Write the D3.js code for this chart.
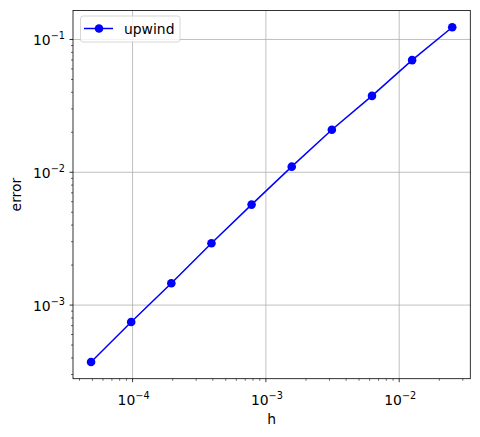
<!DOCTYPE html>
<head>
<meta charset="utf-8">
<script src="https://d3js.org/d3.v7.min.js"></script>
<style>
body { margin: 0; background: white; }
text { font-family: "DejaVu Sans", sans-serif; fill: #000; }
</style>
</head>
<body>
<div id="chart"></div>
<script>
// data
var hValues = [0.025, 0.0125, 0.00625, 0.003125, 0.0015625, 0.00078125, 0.000390625, 0.0001953125, 0.00009765625, 0.000048828125];
var errValues = [0.1236, 0.0699, 0.0376, 0.0209, 0.01102, 0.00571, 0.00292, 0.00146, 0.000745, 0.000373];
var seriesName = "upwind";
var xMajor = [-4, -3, -2];
var yMajor = [-3, -2, -1];

var W = 480, H = 437;
var margin = {top: 10.5, right: 9.7, bottom: 58.3, left: 73};

var svg = d3.select("#chart").append("svg")
  .attr("width", W).attr("height", H);

// matplotlib adds 5% in log space on each side
function padDomain(vals) {
  var lo = Math.log10(d3.min(vals)), hi = Math.log10(d3.max(vals));
  var p = (hi - lo) * 0.05;
  return [Math.pow(10, lo - p), Math.pow(10, hi + p)];
}

var x = d3.scaleLog().domain(padDomain(hValues)).range([margin.left, W - margin.right]);
var y = d3.scaleLog().domain(padDomain(errValues)).range([H - margin.bottom, margin.top]);

function minorTicks(scale) {
  var d = scale.domain(), out = [];
  for (var e = Math.floor(Math.log10(d[0])); e <= Math.ceil(Math.log10(d[1])); e++) {
    for (var k = 2; k <= 9; k++) {
      var v = k * Math.pow(10, e);
      if (v >= d[0] && v <= d[1]) out.push(v);
    }
  }
  return out;
}

var x0 = margin.left, x1 = W - margin.right, y0 = H - margin.bottom, y1 = margin.top;

// grid
svg.append("g").selectAll("line").data(xMajor).join("line")
  .attr("x1", function(e){ return x(Math.pow(10, e)); })
  .attr("x2", function(e){ return x(Math.pow(10, e)); })
  .attr("y1", y0).attr("y2", y1)
  .style("stroke", "#b0b0b0").style("stroke-width", 0.8);
svg.append("g").selectAll("line").data(yMajor).join("line")
  .attr("y1", function(e){ return y(Math.pow(10, e)); })
  .attr("y2", function(e){ return y(Math.pow(10, e)); })
  .attr("x1", x0).attr("x2", x1)
  .style("stroke", "#b0b0b0").style("stroke-width", 0.8);

// line + markers
var pts = hValues.map(function(h, i){ return [h, errValues[i]]; });
svg.append("path").datum(pts)
  .attr("d", d3.line().x(function(d){ return x(d[0]); }).y(function(d){ return y(d[1]); }))
  .style("fill", "none").style("stroke", "#0000ff").style("stroke-width", 1.5);
svg.append("g").selectAll("circle").data(pts).join("circle")
  .attr("cx", function(d){ return x(d[0]); })
  .attr("cy", function(d){ return y(d[1]); })
  .attr("r", 4.3)
  .style("fill", "#0000ff");

// spines
svg.append("rect").attr("x", x0).attr("y", y1).attr("width", x1 - x0).attr("height", y0 - y1)
  .style("fill", "none").style("stroke", "#000").style("stroke-width", 0.8);

// ticks
svg.append("g").selectAll("line").data(xMajor).join("line")
  .attr("x1", function(e){ return x(Math.pow(10, e)); })
  .attr("x2", function(e){ return x(Math.pow(10, e)); })
  .attr("y1", y0).attr("y2", y0 + 3.5)
  .style("stroke", "#000").style("stroke-width", 0.8);
svg.append("g").selectAll("line").data(minorTicks(x)).join("line")
  .attr("x1", function(v){ return x(v); }).attr("x2", function(v){ return x(v); })
  .attr("y1", y0).attr("y2", y0 + 2)
  .style("stroke", "#000").style("stroke-width", 0.6);
svg.append("g").selectAll("line").data(yMajor).join("line")
  .attr("y1", function(e){ return y(Math.pow(10, e)); })
  .attr("y2", function(e){ return y(Math.pow(10, e)); })
  .attr("x1", x0).attr("x2", x0 - 3.5)
  .style("stroke", "#000").style("stroke-width", 0.8);
svg.append("g").selectAll("line").data(minorTicks(y)).join("line")
  .attr("y1", function(v){ return y(v); }).attr("y2", function(v){ return y(v); })
  .attr("x1", x0).attr("x2", x0 - 2)
  .style("stroke", "#000").style("stroke-width", 0.6);

// tick labels 10^n
function powLabel(sel) {
  sel.append("tspan").text("10").style("font-size", "13.9px");
  sel.append("tspan").attr("dy", -6).style("font-size", "9.7px")
    .text(function(e){ return "\u2212" + Math.abs(e); });
}
svg.append("g").selectAll("text").data(xMajor).join("text")
  .attr("x", function(e){ return x(Math.pow(10, e)) + 1; })
  .attr("y", y0 + 26)
  .attr("text-anchor", "middle")
  .call(powLabel);
svg.append("g").selectAll("text").data(yMajor).join("text")
  .attr("x", x0 - 8)
  .attr("y", function(e){ return y(Math.pow(10, e)) + 6; })
  .attr("text-anchor", "end")
  .call(powLabel);

// axis labels
svg.append("text").attr("x", (x0 + x1) / 2).attr("y", y0 + 45)
  .attr("text-anchor", "middle").style("font-size", "13.9px").text("h");
svg.append("text")
  .attr("transform", "translate(" + 21 + "," + ((y0 + y1) / 2) + ") rotate(-90)")
  .attr("text-anchor", "middle").style("font-size", "13.9px").text("error");

// legend
var lg = svg.append("g").attr("transform", "translate(80.5,16)");
lg.append("rect").attr("width", 99.5).attr("height", 26).attr("rx", 2.5)
  .style("fill", "white").style("fill-opacity", 0.8)
  .style("stroke", "#cccccc").style("stroke-width", 0.8);
lg.append("line").attr("x1", 3.5).attr("x2", 32.5).attr("y1", 12.5).attr("y2", 12.5)
  .style("stroke", "#0000ff").style("stroke-width", 1.5);
lg.append("circle").attr("cx", 18.5).attr("cy", 12.5).attr("r", 4.3).style("fill", "#0000ff");
lg.append("text").attr("x", 43.5).attr("y", 17.5).style("font-size", "13.9px").text(seriesName);
</script>
</body>
